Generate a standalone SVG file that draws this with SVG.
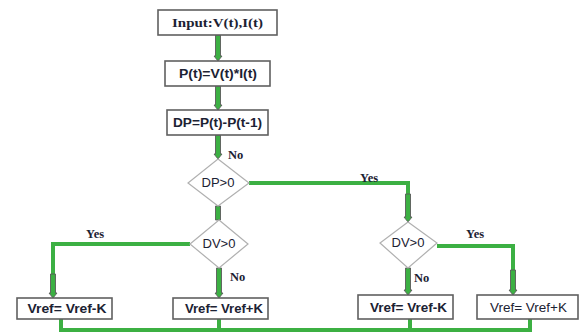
<svg xmlns="http://www.w3.org/2000/svg" width="581" height="334" viewBox="0 0 581 334">
<style>
.box{fill:#fff;stroke:#606060;stroke-width:1.6}
.dia{fill:#fff;stroke:#b0b0b0;stroke-width:1.2}
.ln{fill:none;stroke:#3cb043;stroke-width:4;stroke-linejoin:miter}
.ar{fill:#3cb043;stroke:#5a5a5a;stroke-width:0.9}
.t{font-family:"Liberation Sans",Arial,sans-serif;font-weight:bold;font-size:12px;fill:#1c2233;text-anchor:middle}
.tn{font-family:"Liberation Sans",Arial,sans-serif;font-size:12px;fill:#1c2233;text-anchor:middle}
.ts{font-family:"Liberation Serif","Times New Roman",serif;font-weight:bold;font-size:12.5px;fill:#1c2233}
</style>
<rect width="581" height="334" fill="#fff"/>
<g id="connectors">
<polyline class="ln" points="249,183 408,183 408,196"/>
<polyline class="ln" points="190,244 53,244 53,276"/>
<polyline class="ln" points="437,246 513,246 513,272"/>
<polyline class="ln" points="61,319 61,330 530,330 530,319"/>
<line class="ln" x1="219" y1="319" x2="219" y2="330"/>
<line class="ln" x1="410" y1="319" x2="410" y2="330"/>
<polygon class="ar" points="215.5,35 220.5,35 220.5,56 222,56 218,61 214,56 215.5,56"/>
<polygon class="ar" points="215.5,86 220.5,86 220.5,105 222,105 218,110 214,105 215.5,105"/>
<polygon class="ar" points="215.5,135 220.5,135 220.5,154 222,154 218,159 214,154 215.5,154"/>
<polygon class="ar" points="215.5,206 220.5,206 220.5,220 215.5,220"/>
<polygon class="ar" points="405.5,194 410.5,194 410.5,217 412,217 408,222 404,217 405.5,217"/>
<polygon class="ar" points="50.5,274 55.5,274 55.5,293 57,293 53,298 49,293 50.5,293"/>
<polygon class="ar" points="216.5,268 221.5,268 221.5,293 223,293 219,298 215,293 216.5,293"/>
<polygon class="ar" points="405.5,268 410.5,268 410.5,290 412,290 408,295 404,290 405.5,290"/>
<polygon class="ar" points="510.5,270 515.5,270 515.5,290 517,290 513,295 509,290 510.5,290"/>
<text class="ts" x="228" y="159">No</text>
<text class="ts" x="360" y="182">Yes</text>
<text class="ts" x="86" y="238">Yes</text>
<text class="ts" x="230" y="281">No</text>
<text class="ts" x="466" y="238">Yes</text>
<text class="ts" x="414" y="282">No</text>
</g>
<g id="input"><rect class="box" x="158" y="10" width="119" height="25"/><text class="ts" x="217.5" y="27" text-anchor="middle" textLength="91" lengthAdjust="spacingAndGlyphs">Input:V(t),I(t)</text></g>
<g id="power"><rect class="box" x="165" y="61" width="105" height="25"/><text class="t" x="218" y="78" textLength="78" lengthAdjust="spacingAndGlyphs">P(t)=V(t)*I(t)</text></g>
<g id="dp"><rect class="box" x="167" y="110" width="101" height="25"/><text class="t" x="217.5" y="127" textLength="89" lengthAdjust="spacingAndGlyphs">DP=P(t)-P(t-1)</text></g>
<g id="dp-check"><polygon class="dia" points="218,159 249,183 218,206 188,183"/><text class="tn" x="218" y="187" textLength="33" lengthAdjust="spacingAndGlyphs">DP&gt;0</text></g>
<g id="dv-left"><polygon class="dia" points="219,220 248,244 219,268 190,244"/><text class="tn" x="219" y="248" textLength="33" lengthAdjust="spacingAndGlyphs">DV&gt;0</text></g>
<g id="dv-right"><polygon class="dia" points="408,222 437,243 408,268 380,243"/><text class="tn" x="408" y="247" textLength="33" lengthAdjust="spacingAndGlyphs">DV&gt;0</text></g>
<g id="vref1"><rect class="box" x="17" y="298" width="95" height="21"/><text class="t" x="67" y="312.5" textLength="79" lengthAdjust="spacingAndGlyphs">Vref= Vref-K</text></g>
<g id="vref2"><rect class="box" x="173" y="298" width="95" height="21"/><text class="t" x="224" y="312.5" textLength="78" lengthAdjust="spacingAndGlyphs">Vref= Vref+K</text></g>
<g id="vref3"><rect class="box" x="358" y="295" width="95" height="24"/><text class="t" x="408.5" y="311.5" textLength="77" lengthAdjust="spacingAndGlyphs">Vref= Vref-K</text></g>
<g id="vref4"><rect class="box" x="477" y="295" width="101" height="24"/><text class="tn" x="528.5" y="311.5" textLength="77" lengthAdjust="spacingAndGlyphs">Vref= Vref+K</text></g>
</svg>
